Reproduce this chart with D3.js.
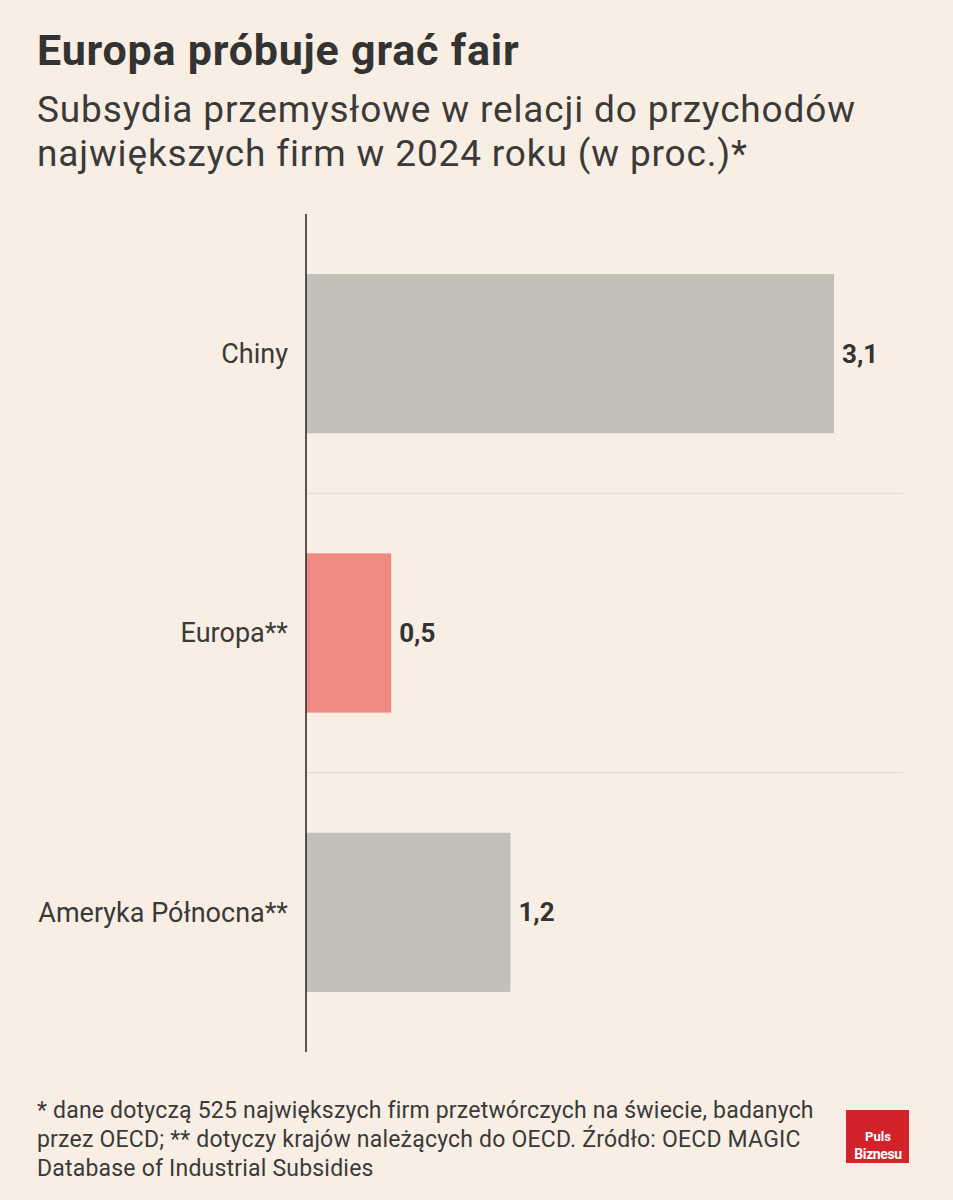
<!DOCTYPE html>
<html>
<head>
<meta charset="utf-8">
<script src="https://cdn.jsdelivr.net/npm/d3@7.9.0/dist/d3.min.js"></script>
<style>
  html, body { margin: 0; padding: 0; background: #f8eee3; }
  svg { display: block; }
  text { font-family: "Roboto", "Noto Sans", sans-serif; fill: #333; }
</style>
</head>
<body>
<svg id="chart" width="953" height="1200"></svg>
<script>
const categories = ['Chiny', 'Europa**', 'Ameryka Północna**'];
const values = [3.1, 0.5, 1.2];
const barColors = ['#c2bfb6', '#ef8a82', '#c2bfb6'];

const title = 'Europa próbuje grać fair';
const subtitle = ['Subsydia przemysłowe w relacji do przychodów', 'największych firm w 2024 roku (w proc.)*'];
const footnote = [
  '* dane dotyczą 525 największych firm przetwórczych na świecie, badanych',
  'przez OECD; ** dotyczy krajów należących do OECD. Źródło: OECD MAGIC',
  'Database of Industrial Subsidies'
];

const svg = d3.select('#chart');
svg.append('rect').attr('width', 953).attr('height', 1200).attr('fill', '#f8eee3');

svg.append('text')
  .attr('x', 37).attr('y', 65)
  .style('font-size', '43px').style('font-weight', 'bold')
  .style('letter-spacing', '0.8px')
  .text(title);

svg.selectAll('.sub').data(subtitle).enter().append('text')
  .attr('class', 'sub')
  .attr('x', 37).attr('y', (d, i) => 122 + i * 44)
  .style('font-size', '37px').style('fill', '#3a3a3a')
  .style('letter-spacing', '0.85px')
  .text(d => d);

const plotLeft = 306, plotRight = 903, plotTop = 214, plotBottom = 1052;

let x = d3.scaleLinear().domain([0, 3.1]).range([plotLeft, 834]);
let y = d3.scaleBand().domain(categories).range([plotTop, plotBottom]).paddingInner(0.43).paddingOuter(0.215);

// separators between bands
let step = y.step();
categories.slice(1).forEach((c) => {
  let yy = y(c) - y.paddingInner() * step / 2;
  svg.append('line')
    .attr('x1', plotLeft).attr('x2', plotRight)
    .attr('y1', yy).attr('y2', yy)
    .attr('stroke', '#e4dbd0').attr('stroke-width', 1.2);
});

categories.forEach((c, i) => {
  svg.append('rect')
    .attr('x', x(0)).attr('y', y(c))
    .attr('width', x(values[i]) - x(0))
    .attr('height', y.bandwidth())
    .attr('fill', barColors[i]);

  svg.append('text')
    .attr('x', x(values[i]) + 8)
    .attr('y', y(c) + y.bandwidth() / 2)
    .attr('dy', '0.35em')
    .style('font-size', '26px').style('font-weight', 'bold')
    .text(d3.format('.1f')(values[i]).replace('.', ','));

  svg.append('text')
    .attr('x', 288)
    .attr('y', y(c) + y.bandwidth() / 2)
    .attr('dy', '0.35em')
    .attr('text-anchor', 'end')
    .style('font-size', '27px').style('fill', '#3a3a3a')
    .text(c);
});

svg.append('line')
  .attr('x1', plotLeft).attr('x2', plotLeft)
  .attr('y1', plotTop).attr('y2', plotBottom)
  .attr('stroke', '#222').attr('stroke-width', 1.5);

svg.selectAll('.foot').data(footnote).enter().append('text')
  .attr('class', 'foot')
  .attr('x', 37).attr('y', (d, i) => 1118 + i * 29)
  .style('font-size', '23px').style('fill', '#3a3a3a')
  .style('letter-spacing', '0.2px')
  .text(d => d);

// logo
const logo = svg.append('g').attr('transform', 'translate(846,1110)');
logo.append('rect').attr('width', 63).attr('height', 53).attr('fill', '#d2232a');
logo.append('text').attr('x', 32).attr('y', 31).attr('text-anchor', 'middle')
  .style('font-size', '13px').style('font-weight', 'bold').style('fill', '#fff').text('Puls');
logo.append('text').attr('x', 32).attr('y', 49).attr('text-anchor', 'middle')
  .style('font-size', '14px').style('font-weight', 'bold').style('fill', '#fff')
  .style('letter-spacing', '-0.4px').text('Biznesu');
</script>
</body>
</html>
